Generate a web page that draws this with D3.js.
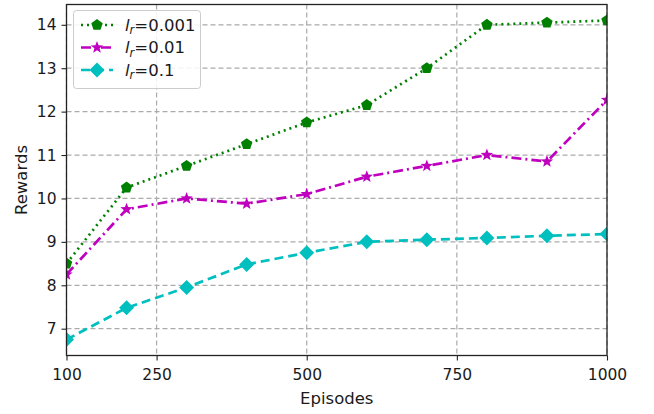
<!DOCTYPE html>
<html><head><meta charset="utf-8">
<script src="https://cdn.jsdelivr.net/npm/d3@7"></script>
<style>body{margin:0;background:#fff}text{font-family:"DejaVu Sans",sans-serif}</style>
</head><body><svg id="c" width="654" height="414"></svg>
<script>
const episodes = [100,200,300,400,500,600,700,800,900,1000];
const lr0001 = [8.5,10.25,10.75,11.25,11.75,12.15,13.0,14.0,14.05,14.1];
const lr001 = [8.25,9.75,10.0,9.88,10.1,10.5,10.75,11.0,10.85,12.27];
const lr01 = [6.75,7.48,7.95,8.48,8.75,9.0,9.05,9.09,9.14,9.18];
const xTicks = [100,250,500,750,1000];
const yTicks = [7,8,9,10,11,12,13,14];
const seriesLabels = ["0.001","0.01","0.1"];

const svg = d3.select("#c");
const L=66.5, R=607, T=4.5, B=355.5;
const all = lr0001.concat(lr001, lr01);
const mn = d3.min(all), mx = d3.max(all), pad=(mx-mn)*0.05;
const x = d3.scaleLinear().domain([100,1000]).range([L,R]);
const y = d3.scaleLinear().domain([mn-pad, mx+pad]).range([B,T]);

// grid
const g = svg.append("g");
g.selectAll(".gx").data(xTicks).join("line").attr("x1",d=>x(d)).attr("x2",d=>x(d)).attr("y1",T).attr("y2",B)
 .attr("stroke","#aaaaaa").attr("stroke-width",1.2).attr("stroke-dasharray","5,3");
g.selectAll(".gy").data(yTicks).join("line").attr("y1",d=>y(d)).attr("y2",d=>y(d)).attr("x1",L).attr("x2",R)
 .attr("stroke","#aaaaaa").attr("stroke-width",1.2).attr("stroke-dasharray","5,3");

const series = [
 {vals:lr0001,color:"#008000",dash:"2,4",sym:"pentagon",size:12},
 {vals:lr001,color:"#bf00bf",dash:"10,4,2,4",sym:"star",size:13},
 {vals:lr01,color:"#00bfbf",dash:"9,5",sym:"diamond",size:15}
];
function symPath(sym,s){
 if(sym==="diamond"){const r=s/2;return `M0,${-r}L${r},0L0,${r}L${-r},0Z`;}
 if(sym==="pentagon"){const r=s/2;let p=[];for(let i=0;i<5;i++){const a=-Math.PI/2+i*2*Math.PI/5;p.push([r*Math.cos(a),r*Math.sin(a)]);}return "M"+p.map(q=>q.join(",")).join("L")+"Z";}
 if(sym==="star"){const r=s/2,ri=r*0.42;let p=[];for(let i=0;i<10;i++){const a=-Math.PI/2+i*Math.PI/5;const rr=i%2?ri:r;p.push([rr*Math.cos(a),rr*Math.sin(a)]);}return "M"+p.map(q=>q.join(",")).join("L")+"Z";}
}
const line = d3.line().x((d,i)=>x(episodes[i])).y(d=>y(d));
svg.append("defs").append("clipPath").attr("id","cp").append("rect").attr("x",L).attr("y",T).attr("width",R-L).attr("height",B-T);
const pg = svg.append("g").attr("clip-path","url(#cp)");
series.forEach(s=>{
 pg.append("path").datum(s.vals).attr("d",line).attr("fill","none").attr("stroke",s.color).attr("stroke-width",2.7).attr("stroke-dasharray",s.dash);
 pg.selectAll(null).data(s.vals).join("path").attr("d",symPath(s.sym,s.size))
  .attr("transform",(d,i)=>`translate(${x(episodes[i])},${y(d)})`).attr("fill",s.color);
});

// axes
const ax = svg.append("g").attr("transform",`translate(0,${B})`).call(d3.axisBottom(x).tickValues(xTicks).tickSize(5).tickPadding(8).tickFormat(d3.format("d")));
const ay = svg.append("g").attr("transform",`translate(${L},0)`).call(d3.axisLeft(y).tickValues(yTicks).tickSize(5).tickPadding(5));
[ax,ay].forEach(a=>{a.select(".domain").remove();a.selectAll("text").attr("font-size",15.5).attr("fill","#1a1a1a").attr("font-family","DejaVu Sans");a.selectAll("line").attr("stroke","#222").attr("stroke-width",1.1);});
svg.append("rect").attr("x",L).attr("y",T).attr("width",R-L).attr("height",B-T).attr("fill","none").attr("stroke","#222").attr("stroke-width",1.3);

svg.append("text").attr("x",(L+R)/2).attr("y",404).attr("text-anchor","middle").attr("font-size",16.5).attr("fill","#1a1a1a").text("Episodes");
svg.append("text").attr("transform",`translate(27,${(T+B)/2}) rotate(-90)`).attr("text-anchor","middle").attr("font-size",16.5).attr("fill","#1a1a1a").text("Rewards");

// legend
const lg = svg.append("g");
lg.append("rect").attr("x",73.5).attr("y",10.5).attr("width",127).attr("height",78).attr("rx",3).attr("fill","#fff").attr("fill-opacity",0.85).attr("stroke","#ccc");
series.forEach((s,i)=>{
 const yy = 25 + i*22.5;
 lg.append("line").attr("x1",81).attr("x2",113).attr("y1",yy).attr("y2",yy).attr("stroke",s.color).attr("stroke-width",2.7).attr("stroke-dasharray",s.dash);
 lg.append("path").attr("d",symPath(s.sym,s.size)).attr("transform",`translate(97,${yy})`).attr("fill",s.color);
 const t = lg.append("text").attr("x",125).attr("y",yy+5.5).attr("font-size",16.5).attr("fill","#1a1a1a");
 t.append("tspan").attr("font-style","italic").text("l");
 t.append("tspan").attr("font-style","italic").attr("font-size",11.5).attr("dy",3.5).text("r");
 t.append("tspan").attr("dy",-3.5).text("="+seriesLabels[i]);
});
</script></body></html>
